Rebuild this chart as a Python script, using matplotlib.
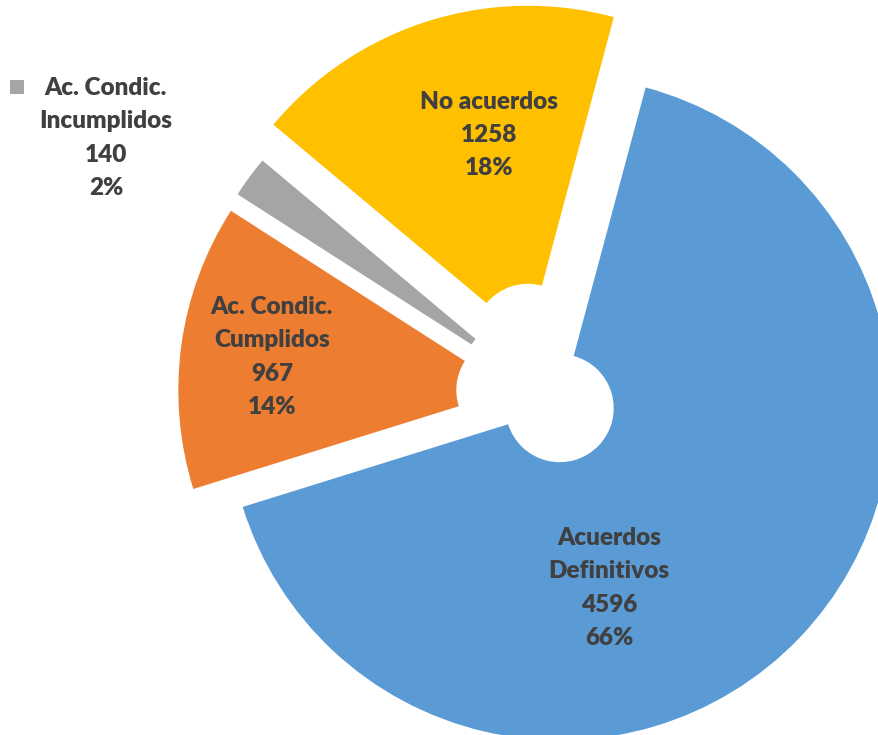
import matplotlib.pyplot as plt
from matplotlib.patches import Rectangle

# data
categories = ['Acuerdos\nDefinitivos', 'Ac. Condic.\nCumplidos', 'Ac. Condic.\nIncumplidos', 'No acuerdos']
values = [4596, 967, 140, 1258]
percents = ['66%', '14%', '2%', '18%']
colors = ['#5B9BD5', '#ED7D31', '#A5A5A5', '#FFC000']
explode = [19, 36, 36, 60]  # pixels

W, H = 879, 735
fig = plt.figure(figsize=(W / 100, H / 100), dpi=100)
ax = fig.add_axes([0, 0, 1, 1])

R = 332
center = (546, H - 395)
ax.pie(values, radius=R, center=center, startangle=75, counterclock=False,
       colors=colors, explode=explode, frame=True,
       wedgeprops=dict(width=R - 54, linewidth=0))
ax.set_xlim(0, W)
ax.set_ylim(0, H)
ax.set_aspect('equal')
ax.axis('off')

txt = dict(ha='center', va='center', fontsize=17.5, fontweight=800,
           color='#404040', family='Lato', linespacing=1.62)

# label positions in pixel coords (x, y from top)
label_pos = [(609, 588), (272, 357), (106, 138), (489, 135)]
for cat, v, p, (x, y) in zip(categories, values, percents, label_pos):
    ax.text(x, H - y, f'{cat}\n{v}\n{p}', **txt)

# legend key next to the outside label
ax.add_patch(Rectangle((10, H - 94), 14, 14, color=colors[2], lw=0))

fig.savefig('out.png', dpi=100)
